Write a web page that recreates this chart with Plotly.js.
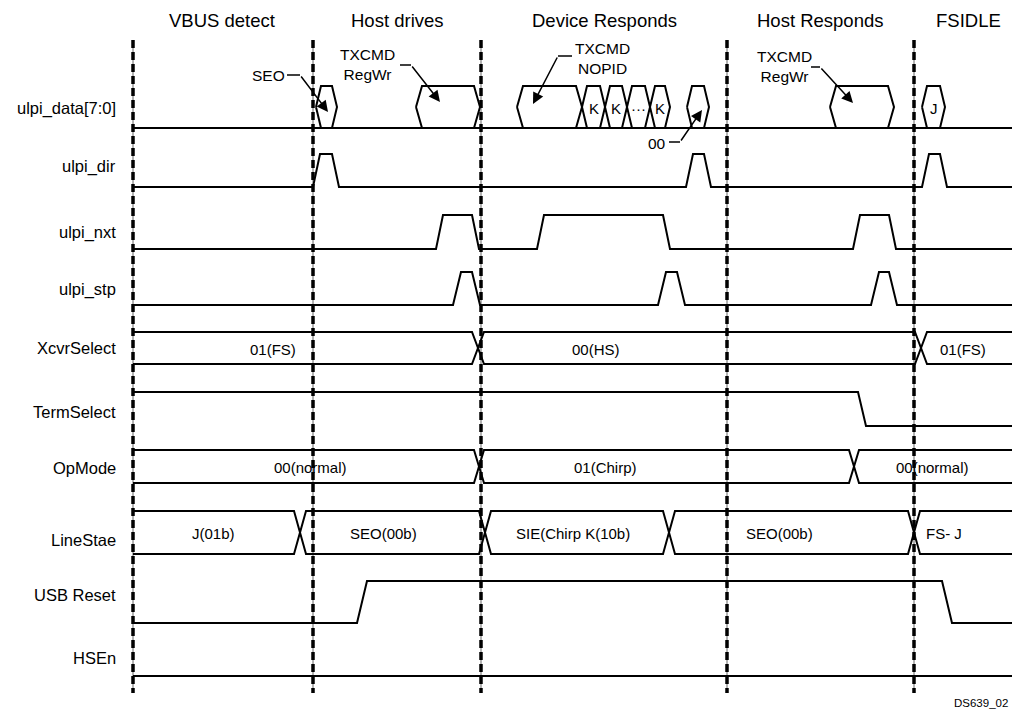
<!DOCTYPE html>
<html><head><meta charset="utf-8">
<script src="https://cdn.plot.ly/plotly-3.0.1.min.js"></script>
<style>html,body{margin:0;padding:0;background:#fff;overflow:hidden}</style>
</head><body><div id="chart" style="width:1012px;height:717px"></div>
<script>
// ---------------- data (time units) ----------------
const phaseNames = ["VBUS detect", "Host drives", "Device Responds", "Host Responds", "FSIDLE"];
const phaseMarkers = [133, 313, 481, 727, 914];
const phaseLabelAt = [222, 397, 604, 820, 968];

const signalNames = ["ulpi_data[7:0]", "ulpi_dir", "ulpi_nxt", "ulpi_stp", "XcvrSelect",
                     "TermSelect", "OpMode", "LineStae", "USB Reset", "HSEn"];

// single-bit signals: initial level + toggle times
const dirInit = 0,  dirEdges = [313, 332, 686, 704, 922, 940];
const nxtInit = 0,  nxtEdges = [436, 472, 537, 663, 853, 889];
const stpInit = 0,  stpEdges = [453, 472, 658, 677, 871, 889];
const termInit = 1, termEdges = [858];
const resetInit = 0, resetEdges = [357, 942];
const hsenInit = 0, hsenEdges = [];

// multi-bit buses: change times + values
const xcvrEdges = [478, 921];
const xcvrValues = ["01(FS)", "00(HS)", "01(FS)"];
const opModeEdges = [479, 854];
const opModeValues = ["00(normal)", "01(Chirp)", "00(normal)"];
const lineStateEdges = [300, 485, 669, 914];
const lineStateValues = ["J(01b)", "SEO(00b)", "SIE(Chirp K(10b)", "SEO(00b)", "FS- J"];

// ulpi_data cells
const dataCellStart = [316, 416, 517, 582, 605, 627, 650, 687, 830, 922];
const dataCellEnd   = [337, 480, 582, 605, 627, 650, 670, 709, 894, 945];
const dataCellValue = ["", "", "", "K", "K", "\u00b7\u00b7\u00b7", "K", "", "", "J"];

// callouts
const calloutText = ["SEO", "TXCMD<br>RegWr", "TXCMD<br>NOPID", "00", "TXCMD<br>RegWr"];
const calloutTarget = [328, 440, 533, 702, 853];

// ---------------- layout constants ----------------
const T0 = 133, T1 = 1012;
const rowTop = [86, 154, 215, 272, 332, 392, 450, 511, 581, 643];
const rowBot = [128, 187, 249, 305, 364, 426, 483, 554, 623, 676];
const labelY = [108, 166, 232, 289, 348, 412, 468, 540, 595, 658];
const xcvrLabelAt = [273, 596, 963];
const opModeLabelAt = [310, 605, 932];
const lineStateLabelAt = [213, 383, 573, 779, 944];
const calloutPos = [[268, 75], [367, 64], [602, 58], [657, 143], [784, 66]];
const calloutLeader = [[287, 300], [400, 411], [572, 558], [669, 680], [811, 820]];
const calloutLeaderY = [75, 65, 56, 142, 67];
const calloutTargetY = [112, 102, 104, 110, 103];

const FONT = "Liberation Sans, Arial, Helvetica, sans-serif";
const traces = [];
const annotations = [];
const LINE = {color: "#000", width: 2};

function addLine(xs, ys, line) {
  traces.push({type: "scatter", mode: "lines", x: xs, y: ys, line: line || LINE,
               hoverinfo: "skip", showlegend: false});
}
function addText(x, y, text, size, anchor) {
  annotations.push({x: x, y: y, xref: "x", yref: "y", text: text, showarrow: false,
    xanchor: anchor || "center", yanchor: "middle",
    font: {family: FONT, size: size, color: "#000"}});
}

// phase markers
phaseMarkers.forEach(t => {
  addLine([t, t], [40, 693], {color: "#666", width: 1});
  addLine([t, t], [40, 693], {color: "#000", width: 3.5, dash: "8px,4px"});
});
phaseNames.forEach((n, i) => addText(phaseLabelAt[i], 20, n, 18.5));

// row labels
signalNames.forEach((n, i) => addText(118, labelY[i], n, 16.5, "right"));

// single-bit signals
function bitSignal(row, init, edges, slew) {
  const hi = rowTop[row], lo = rowBot[row];
  let lvl = init;
  const xs = [T0], ys = [lvl ? hi : lo];
  edges.forEach(t => {
    xs.push(t); ys.push(lvl ? hi : lo);
    lvl = 1 - lvl;
    xs.push(t + slew); ys.push(lvl ? hi : lo);
  });
  xs.push(T1); ys.push(lvl ? hi : lo);
  addLine(xs, ys);
}
bitSignal(1, dirInit, dirEdges, 7);
bitSignal(2, nxtInit, nxtEdges, 7);
bitSignal(3, stpInit, stpEdges, 8);
bitSignal(5, termInit, termEdges, 8);
bitSignal(8, resetInit, resetEdges, 10);
bitSignal(9, hsenInit, hsenEdges, 8);

// buses
function bus(row, edges, values, labelAt, h) {
  const top = rowTop[row], bot = rowBot[row];
  [top, bot].forEach(start => {
    let lvl = start;
    const xs = [T0], ys = [lvl];
    edges.forEach(t => {
      xs.push(t - h); ys.push(lvl);
      lvl = (lvl === top) ? bot : top;
      xs.push(t + h); ys.push(lvl);
    });
    xs.push(T1); ys.push(lvl);
    addLine(xs, ys);
  });
  values.forEach((v, i) => addText(labelAt[i], (top + bot) / 2 + 1, v, 15));
}
bus(4, xcvrEdges, xcvrValues, xcvrLabelAt, 6);
bus(6, opModeEdges, opModeValues, opModeLabelAt, 5);
bus(7, lineStateEdges, lineStateValues, lineStateLabelAt, 6);

// ulpi_data
(function () {
  const top = rowTop[0], bot = rowBot[0], mid = (top + bot) / 2;
  addLine([T0, T1], [bot, bot]);
  dataCellStart.forEach((a, i) => {
    const b = dataCellEnd[i];
    const h = (b - a) > 40 ? 6 : 5;
    addLine([a, a + h, b - h, b, b - h, a + h, a], [mid, top, top, mid, bot, bot, mid]);
    if (dataCellValue[i]) addText((a + b) / 2, mid + 1, dataCellValue[i], 15);
  });
})();

// callouts
calloutText.forEach((txt, i) => {
  addText(calloutPos[i][0], calloutPos[i][1], txt, 15.5);
  const [l0, l1] = calloutLeader[i];
  addLine([l0, l1], [calloutLeaderY[i], calloutLeaderY[i]], {color: "#000", width: 1.5});
  annotations.push({x: calloutTarget[i], y: calloutTargetY[i], xref: "x", yref: "y",
    ax: l1, ay: calloutLeaderY[i], axref: "x", ayref: "y", text: "",
    showarrow: true, arrowhead: 2, arrowsize: 1.5, arrowwidth: 1.5, arrowcolor: "#000"});
});

// footer
addText(1010, 703, "DS639_02", 11.5, "right");

const layout = {
  width: 1012, height: 717,
  margin: {l: 0, r: 0, t: 0, b: 0},
  paper_bgcolor: "#fff", plot_bgcolor: "#fff",
  xaxis: {range: [0, 1012], visible: false, fixedrange: true},
  yaxis: {range: [717, 0], visible: false, fixedrange: true},
  annotations: annotations,
  showlegend: false
};
Plotly.newPlot("chart", traces, layout, {staticPlot: true, displayModeBar: false});
</script>
</body></html>
